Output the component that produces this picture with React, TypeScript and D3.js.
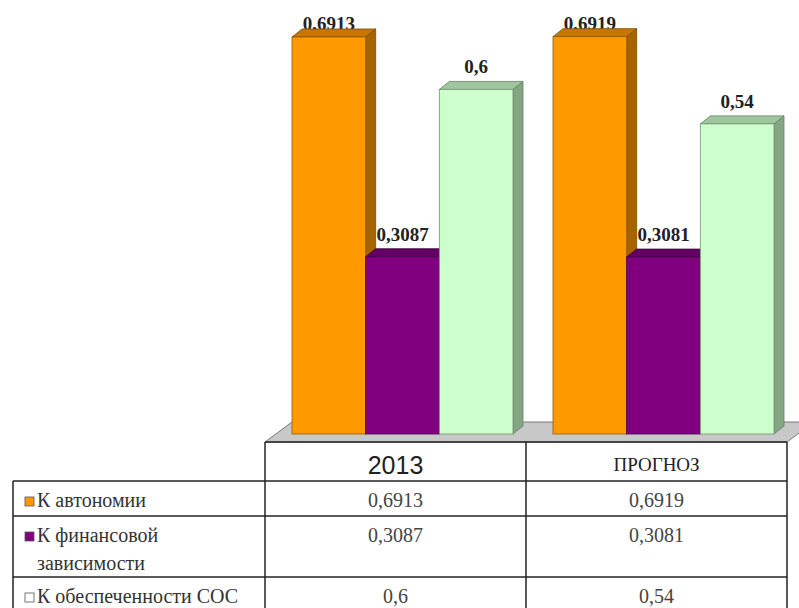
import * as d3 from 'd3'
import { useEffect, useRef } from 'react'

const CATEGORIES = ['2013', 'ПРОГНОЗ']
const SERIES = ['К автономии', 'К финансовой зависимости', 'К обеспеченности СОС']
const AUTONOMY = [0.6913, 0.6919]
const FIN_DEPENDENCE = [0.3087, 0.3081]
const OWN_CAPITAL = [0.6, 0.54]

const COLORS = ['#ff9900', '#800080', '#ccffcc']
const SERIF = "'Liberation Serif', 'DejaVu Serif', serif"
const SANS = "'Liberation Sans', Arial, sans-serif"

const fmt = (v: number) => String(v).replace('.', ',')

export default function App() {
  const ref = useRef<HTMLDivElement>(null)

  useEffect(() => {
    const width = 799
    const height = 608
    const plotLeft = 265
    const plotRight = 787
    const baseY = 434
    const floorFront = 442
    const depthX = 10
    const depthY = 8
    const floorDX = 27
    const floorDY = 20
    const tableLeft = 13
    const headerBottom = 481
    const values = [AUTONOMY, FIN_DEPENDENCE, OWN_CAPITAL]

    const x0 = d3.scaleBand().domain(CATEGORIES).range([plotLeft, plotRight])
    const x1 = d3
      .scaleBand()
      .domain(SERIES)
      .range([floorDX, x0.bandwidth() - 13])
    const y = d3.scaleLinear().domain([0, 0.7]).range([baseY, 32])

    const bars = CATEGORIES.flatMap((cat, i) =>
      SERIES.map((s, j) => ({ cat, s, v: values[j][i], color: COLORS[j] })),
    )

    const svg = d3
      .create('svg')
      .attr('width', width)
      .attr('height', height)
      .attr('viewBox', [0, 0, width, height])
      .attr('style', 'position:absolute;left:0;top:0;background:#fff')

    if (!ref.current) return
    ref.current.innerHTML = ''
    ref.current.appendChild(svg.node()!)

    /* floor */
    svg
      .append('polygon')
      .attr(
        'points',
        [
          [plotLeft, floorFront],
          [plotRight, floorFront],
          [plotRight + floorDX, floorFront - floorDY],
          [plotLeft + floorDX, floorFront - floorDY],
        ].join(' '),
      )
      .attr('fill', '#c8c8c8')
      .attr('stroke', '#7a7a7a')
      .attr('stroke-width', 1)

    const bx = (d: { cat: string; s: string }) =>
      (x0(d.cat) as number) + (x1(d.s) as number)
    const bw = x1.bandwidth()

    /* value labels (behind the bars, like the original) */
    svg
      .append('g')
      .attr('font-family', SERIF)
      .attr('font-weight', 'bold')
      .attr('font-size', 19)
      .attr('fill', '#222')
      .attr('text-anchor', 'middle')
      .selectAll('text')
      .data(bars)
      .join('text')
      .attr('x', (d) => bx(d) + bw / 2)
      .attr('y', (d) => Math.max(y(d.v) - 16, 30))
      .text((d) => fmt(d.v))

    /* 3d bars */
    const g = svg
      .append('g')
      .selectAll('g')
      .data(bars)
      .join('g')
      .attr('stroke-width', 0.8)
    g.append('polygon')
      .attr('points', (d) => {
        const x = bx(d)
        const t = y(d.v)
        return [
          [x + bw, t],
          [x + bw + depthX, t - depthY],
          [x + bw + depthX, baseY - depthY],
          [x + bw, baseY],
        ].join(' ')
      })
      .attr('fill', (d) => d3.color(d.color)!.darker(1.2).formatHex())
      .attr('stroke', (d) => d3.color(d.color)!.darker(2).formatHex())
    g.append('polygon')
      .attr('points', (d) => {
        const x = bx(d)
        const t = y(d.v)
        return [
          [x, t],
          [x + depthX, t - depthY],
          [x + bw + depthX, t - depthY],
          [x + bw, t],
        ].join(' ')
      })
      .attr('fill', (d) => d3.color(d.color)!.darker(0.7).formatHex())
      .attr('stroke', (d) => d3.color(d.color)!.darker(2).formatHex())
    g.append('rect')
      .attr('x', (d) => bx(d))
      .attr('y', (d) => y(d.v))
      .attr('width', bw)
      .attr('height', (d) => baseY - y(d.v))
      .attr('fill', (d) => d.color)
      .attr('stroke', (d) => d3.color(d.color)!.darker(1.5).formatHex())

    /* data table */
    const table = svg
      .append('g')
      .attr('stroke', '#222')
      .attr('stroke-width', 1.5)
    const line = (xa: number, ya: number, xb: number, yb: number) =>
      table
        .append('line')
        .attr('x1', xa)
        .attr('y1', ya)
        .attr('x2', xb)
        .attr('y2', yb)

    line(plotLeft, floorFront, plotRight, floorFront)

    // header
    svg
      .append('g')
      .attr('text-anchor', 'middle')
      .selectAll('text')
      .data(CATEGORIES)
      .join('text')
      .attr('x', (d) => (x0(d) as number) + x0.bandwidth() / 2)
      .attr('y', (d) => (/^\d+$/.test(d) ? floorFront + 32 : floorFront + 29))
      .attr('font-family', (d) => (/^\d+$/.test(d) ? SANS : SERIF))
      .attr('font-size', (d) => (/^\d+$/.test(d) ? 25 : 19))
      .attr('fill', '#222')
      .text((d) => d)

    // rows
    const labelX = 37
    const maxLabel = plotLeft - labelX - 8
    let top = headerBottom
    SERIES.forEach((s, j) => {
      line(tableLeft, top, plotRight, top)
      const label = svg
        .append('text')
        .attr('x', labelX)
        .attr('y', top + 26)
        .attr('font-family', SERIF)
        .attr('font-size', 20)
        .attr('fill', '#333')
      const words = s.split(' ')
      let lines = 1
      let tspan = label.append('tspan').attr('x', labelX)
      let cur: string[] = []
      words.forEach((w) => {
        cur.push(w)
        tspan.text(cur.join(' '))
        const node = tspan.node() as SVGTextContentElement
        if (node.getComputedTextLength() > maxLabel && cur.length > 1) {
          cur.pop()
          tspan.text(cur.join(' '))
          cur = [w]
          lines += 1
          tspan = label
            .append('tspan')
            .attr('x', labelX)
            .attr('dy', 28)
            .text(w)
        }
      })

      svg
        .append('rect')
        .attr('x', 25)
        .attr('y', top + 16)
        .attr('width', 9)
        .attr('height', 9)
        .attr('fill', COLORS[j] === '#ccffcc' ? '#fff' : COLORS[j])
        .attr('stroke', '#555')
        .attr('stroke-width', 0.8)

      svg
        .append('g')
        .attr('text-anchor', 'middle')
        .attr('font-family', SERIF)
        .attr('font-size', 20)
        .attr('fill', '#444')
        .selectAll('text')
        .data(CATEGORIES)
        .join('text')
        .attr('x', (d) => (x0(d) as number) + x0.bandwidth() / 2)
        .attr('y', top + 26)
        .text((_, i) => fmt(values[j][i]))

      top += 35 + 26 * (lines - 1)
    })
    line(tableLeft, top, plotRight, top)

    line(tableLeft, headerBottom, tableLeft, top)
    ;[plotLeft, ...CATEGORIES.map((c) => (x0(c) as number) + x0.bandwidth())].forEach(
      (xv) => line(xv, floorFront, xv, top),
    )
  }, [])

  return <div ref={ref} />
}
